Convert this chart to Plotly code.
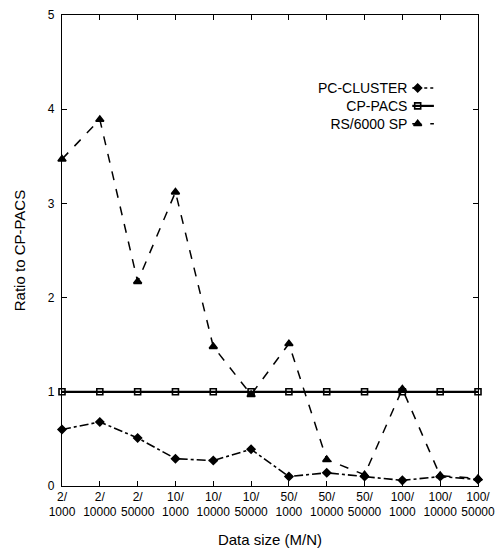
import plotly.graph_objects as go

# Data size (M/N) categories
categories = ["2/<br>1000", "2/<br>10000", "2/<br>50000",
              "10/<br>1000", "10/<br>10000", "10/<br>50000",
              "50/<br>1000", "50/<br>10000", "50/<br>50000",
              "100/<br>1000", "100/<br>10000", "100/<br>50000"]

# Ratio to CP-PACS for each machine
pc_cluster = [0.60, 0.68, 0.51, 0.29, 0.27, 0.39, 0.10, 0.14, 0.10, 0.06, 0.10, 0.07]
cp_pacs = [1.0, 1.0, 1.0, 1.0, 1.0, 1.0, 1.0, 1.0, 1.0, 1.0, 1.0, 1.0]
rs6000 = [3.47, 3.89, 2.17, 3.12, 1.48, 0.97, 1.51, 0.28, 0.12, 1.03, 0.11, 0.08]

series_names = ["PC-CLUSTER", "CP-PACS", "RS/6000 SP"]

FONT = "Liberation Sans, Arial, Helvetica, sans-serif"
BLACK = "black"

styles = {
    "PC-CLUSTER": dict(dash="dashdot", width=1.6, symbol="diamond", size=6, fill=BLACK),
    "CP-PACS": dict(dash="solid", width=2.2, symbol="square-open", size=6, fill=BLACK),
    "RS/6000 SP": dict(dash="dash", width=1.5, symbol="triangle-up", size=7, fill=BLACK),
}

fig = go.Figure()

# RS/6000 first, then PC-CLUSTER, CP-PACS drawn last on top
for name, ys in [("RS/6000 SP", rs6000), ("PC-CLUSTER", pc_cluster), ("CP-PACS", cp_pacs)]:
    st = styles[name]
    fig.add_trace(go.Scatter(
        x=categories, y=ys, name=name, mode="lines+markers",
        line=dict(color=BLACK, width=st["width"], dash=st["dash"]),
        marker=dict(symbol=st["symbol"], size=st["size"], color=st["fill"],
                    line=dict(color=BLACK, width=1.6)),
        cliponaxis=False, showlegend=False,
    ))

# Legend: labels on the left (right-aligned), line sample with marker on the right
legend_rows = [0.845, 0.807, 0.769]
legend_line_x = [0.842, 0.894]
for name, yrow in zip(series_names, legend_rows):
    st = styles[name]
    fig.add_trace(go.Scatter(
        x=legend_line_x, y=[yrow, yrow], mode="lines",
        line=dict(color=BLACK, width=st["width"],
                  dash="dot" if name == "PC-CLUSTER" else st["dash"]),
        xaxis="x2", yaxis="y2", showlegend=False, hoverinfo="skip",
    ))
    fig.add_trace(go.Scatter(
        x=[legend_line_x[0] + 0.013], y=[yrow], mode="markers",
        marker=dict(symbol=st["symbol"], size=st["size"], color=st["fill"],
                    line=dict(color=BLACK, width=1.6)),
        xaxis="x2", yaxis="y2", showlegend=False, hoverinfo="skip",
    ))

fig.add_annotation(
    x=0.835, y=legend_rows[1], xref="x2", yref="y2",
    text="<br>".join(series_names), align="right",
    showarrow=False, xanchor="right", yanchor="middle",
    font=dict(family=FONT, size=14, color=BLACK),
)

axis_common = dict(
    showline=True, linecolor=BLACK, linewidth=1.2, mirror="ticks",
    ticks="inside", ticklen=5, tickcolor=BLACK, tickwidth=1,
    showgrid=False, zeroline=False, automargin=False,
    tickfont=dict(family=FONT, size=12, color=BLACK),
)

fig.update_layout(
    width=495, height=548,
    margin=dict(l=62, r=17, t=15, b=62),
    paper_bgcolor="white", plot_bgcolor="white",
    font=dict(family=FONT, color=BLACK),
    xaxis=dict(
        **axis_common, type="category", range=[0, len(categories) - 1],
        ticklabelstandoff=-1,
        title=dict(text="Data size (M/N)", font=dict(family=FONT, size=15, color=BLACK), standoff=16),
    ),
    yaxis=dict(
        **axis_common, range=[0, 5], tickvals=[0, 1, 2, 3, 4, 5],
        ticklabelstandoff=4,
        title=dict(text="Ratio to CP-PACS", font=dict(family=FONT, size=15, color=BLACK), standoff=18),
    ),
    xaxis2=dict(overlaying="x", range=[0, 1], visible=False),
    yaxis2=dict(overlaying="y", range=[0, 1], visible=False),
)

fig.write_html("out.html")
